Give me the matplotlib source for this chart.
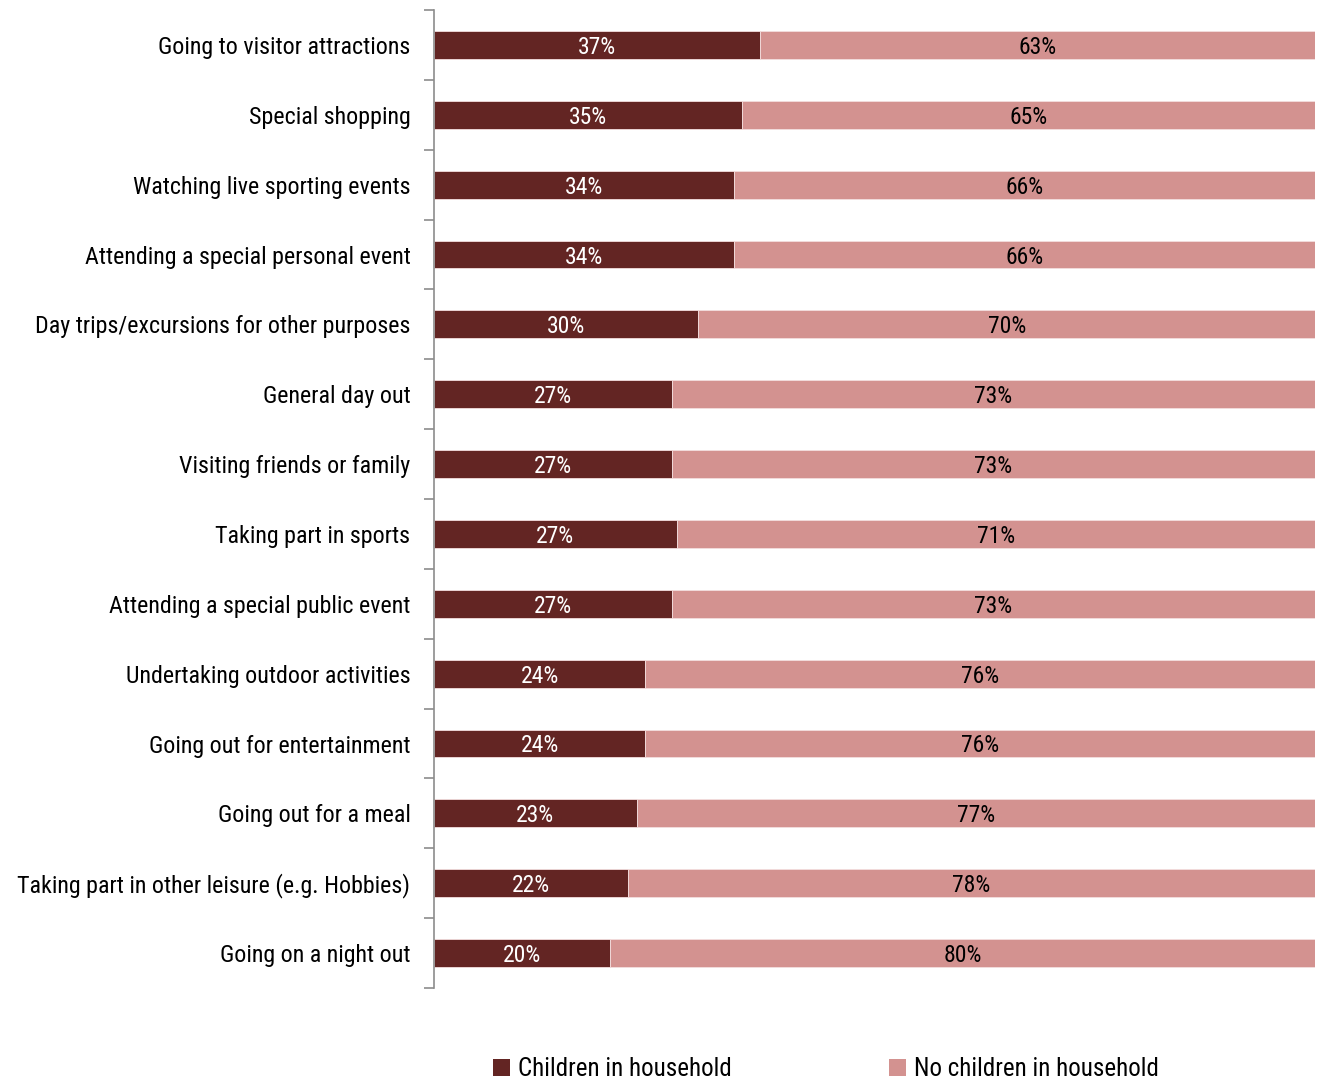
import numpy as np
import matplotlib.pyplot as plt
from matplotlib.patches import Patch
from matplotlib.ticker import FixedLocator

plt.rcParams['font.family'] = ['Roboto Condensed', 'DejaVu Sans']

categories = [
    'Going to visitor attractions',
    'Special shopping',
    'Watching live sporting events',
    'Attending a special personal event',
    'Day trips/excursions for other purposes',
    'General day out',
    'Visiting friends or family',
    'Taking part in sports',
    'Attending a special public event',
    'Undertaking outdoor activities',
    'Going out for entertainment',
    'Going out for a meal',
    'Taking part in other leisure (e.g. Hobbies)',
    'Going on a night out',
]
with_children = [37, 35, 34, 34, 30, 27, 27, 27, 27, 24, 24, 23, 22, 20]
no_children = [63, 65, 66, 66, 70, 73, 73, 71, 73, 76, 76, 77, 78, 80]

dark = '#632523'
light = '#D39290'

# 100% stacked: each row is scaled to its own total
kids = np.array(with_children, dtype=float)
rest = np.array(no_children, dtype=float)
total = kids + rest
kids_share = kids / total
rest_share = rest / total

fig = plt.figure(figsize=(13.17, 10.82), dpi=100)
ax = fig.add_axes([434 / 1317, 1 - 988 / 1082, 881 / 1317, 978 / 1082])

y = np.arange(len(categories))
h = 0.4
ax.barh(y, kids_share, height=h, color=dark, edgecolor='#f3dede', linewidth=0.6)
ax.barh(y, rest_share, left=kids_share, height=h, color=light,
        edgecolor='#f3dede', linewidth=0.6)

for i in range(len(categories)):
    ax.text(kids_share[i] / 2, y[i], f'{with_children[i]}%', ha='center',
            va='center_baseline', color='white', fontsize=17)
    ax.text(kids_share[i] + rest_share[i] / 2, y[i], f'{no_children[i]}%',
            ha='center', va='center_baseline', color='black', fontsize=17)

ax.set_xlim(0, 1)
ax.set_ylim(len(categories) - 0.5, -0.5)
ax.set_yticks(y)
ax.set_yticklabels(categories, fontsize=17.3)
ax.tick_params(axis='y', which='major', length=0, pad=17)
ax.yaxis.set_minor_locator(FixedLocator(np.arange(-0.5, len(categories), 1)))
ax.tick_params(axis='y', which='minor', length=7, width=1.2, color='#8c8c8c',
               direction='out')
ax.set_xticks([])
for side in ['top', 'right', 'bottom']:
    ax.spines[side].set_visible(False)
ax.spines['left'].set_color('#8c8c8c')
ax.spines['left'].set_linewidth(1.2)

handles = [Patch(facecolor=dark, label='Children in household'),
           Patch(facecolor=light, label='No children in household')]
fig.legend(handles=handles, loc='center', bbox_to_anchor=(0.627, 1 - 1069 / 1082),
           ncol=2, frameon=False, fontsize=18, handlelength=0.7,
           handleheight=0.7, handletextpad=0.3, columnspacing=6.3)

fig.savefig('out.png', dpi=100)
